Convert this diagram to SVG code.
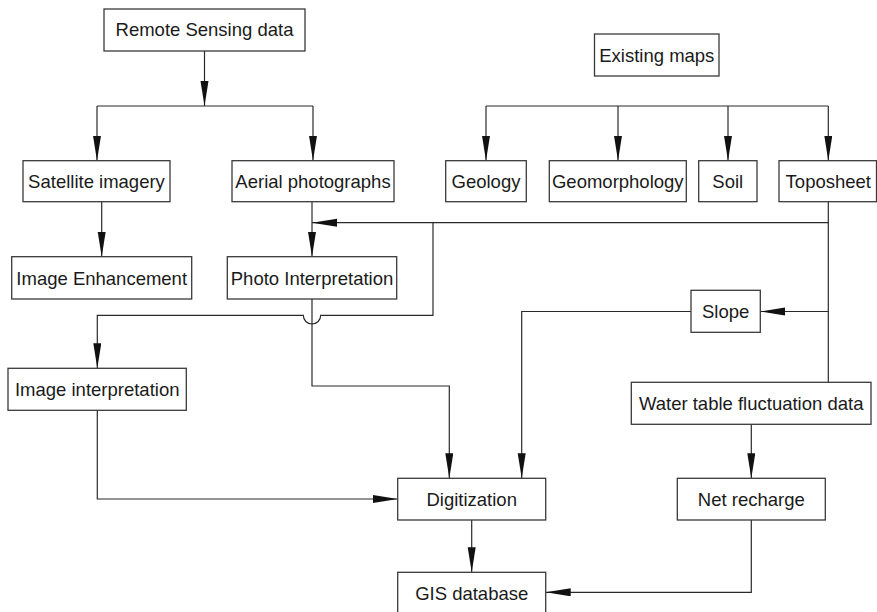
<svg xmlns="http://www.w3.org/2000/svg" width="877" height="612" viewBox="0 0 877 612">
<style>
rect.box{fill:#fff;stroke:#3a3a3a;stroke-width:1.3}
text{font-family:"Liberation Sans",Arial,sans-serif;font-size:18.5px;fill:#1a1a1a;text-anchor:middle}
.c path{fill:none;stroke:#2a2a2a;stroke-width:1.2}
.c path.a{marker-end:url(#ah)}
</style>
<defs>
<marker id="ah" markerUnits="userSpaceOnUse" markerWidth="26" markerHeight="9" refX="25" refY="4" orient="auto">
<path d="M0,0 L25,4 L0,8 Z" fill="#111"/>
</marker>
</defs>
<rect width="877" height="612" fill="#fff"/>
<g class="c" id="connectors">
<path class="a" d="M204.5,51 V106"/>
<path d="M97,106 H313"/>
<path class="a" d="M97,106 V160.7"/>
<path class="a" d="M313,106 V160.7"/>
<path d="M486,106 H828.3"/>
<path class="a" d="M486,106 V160.7"/>
<path class="a" d="M618,106 V160.7"/>
<path class="a" d="M728,106 V160.7"/>
<path class="a" d="M828.3,106 V160.7"/>
<path class="a" d="M101.7,201.7 V256.7"/>
<path class="a" d="M312,201.7 V256.7"/>
<path d="M828.3,201.7 V382.3"/>
<path class="a" d="M828.3,222.7 H312"/>
<path class="a" d="M433,222.7 V315.3 H320.7 A8.7,8.7 0 0 1 303.3,315.3 H97.3 V368.3"/>
<path class="a" d="M828.3,311.5 H760.3"/>
<path class="a" d="M691,311.5 H521.7 V478.3"/>
<path class="a" d="M312,299 V386 H449.3 V478.3"/>
<path class="a" d="M97.3,410.3 V499 H397.7"/>
<path class="a" d="M471.7,520 V572.3"/>
<path class="a" d="M751.3,424.3 V478.3"/>
<path class="a" d="M751.3,520 V592.3 H545.7"/>
</g>
<g id="remote"><rect class="box" x="104" y="9" width="201" height="42"/><text x="204.5" y="36">Remote Sensing data</text></g>
<g id="existing"><rect class="box" x="594.5" y="34" width="124.5" height="42"/><text x="656.8" y="61.5">Existing maps</text></g>
<g id="satellite"><rect class="box" x="23" y="160.7" width="147" height="41"/><text x="96.5" y="187.8">Satellite imagery</text></g>
<g id="aerial"><rect class="box" x="232" y="160.7" width="162" height="41"/><text x="313" y="187.8">Aerial photographs</text></g>
<g id="geology"><rect class="box" x="445.7" y="160.7" width="80.6" height="41"/><text x="486" y="187.8">Geology</text></g>
<g id="geomorphology"><rect class="box" x="549.3" y="160.7" width="137" height="41"/><text x="617.8" y="187.8">Geomorphology</text></g>
<g id="soil"><rect class="box" x="698.7" y="160.7" width="58.3" height="41"/><text x="727.8" y="187.8">Soil</text></g>
<g id="toposheet"><rect class="box" x="779" y="160.7" width="97.5" height="41"/><text x="828.3" y="187.8">Toposheet</text></g>
<g id="enhancement"><rect class="box" x="11.7" y="256.7" width="180" height="42.3"/><text x="101.7" y="284.5">Image Enhancement</text></g>
<g id="photo"><rect class="box" x="227.3" y="256.7" width="169.4" height="42.3"/><text x="312" y="284.5">Photo Interpretation</text></g>
<g id="slope"><rect class="box" x="691" y="290.3" width="69.3" height="42"/><text x="725.7" y="317.8">Slope</text></g>
<g id="imageinterp"><rect class="box" x="8" y="368.3" width="178.3" height="42"/><text x="97.2" y="395.5">Image interpretation</text></g>
<g id="watertable"><rect class="box" x="631.3" y="382.3" width="239.7" height="42"/><text x="751.2" y="410">Water table fluctuation data</text></g>
<g id="digitization"><rect class="box" x="397.7" y="478.3" width="148" height="41.7"/><text x="471.7" y="505.5">Digitization</text></g>
<g id="netrecharge"><rect class="box" x="677.3" y="478.3" width="148" height="41.7"/><text x="751.3" y="505.5">Net recharge</text></g>
<g id="gis"><rect class="box" x="397.7" y="572.3" width="148" height="42"/><text x="471.7" y="600">GIS database</text></g>
</svg>
